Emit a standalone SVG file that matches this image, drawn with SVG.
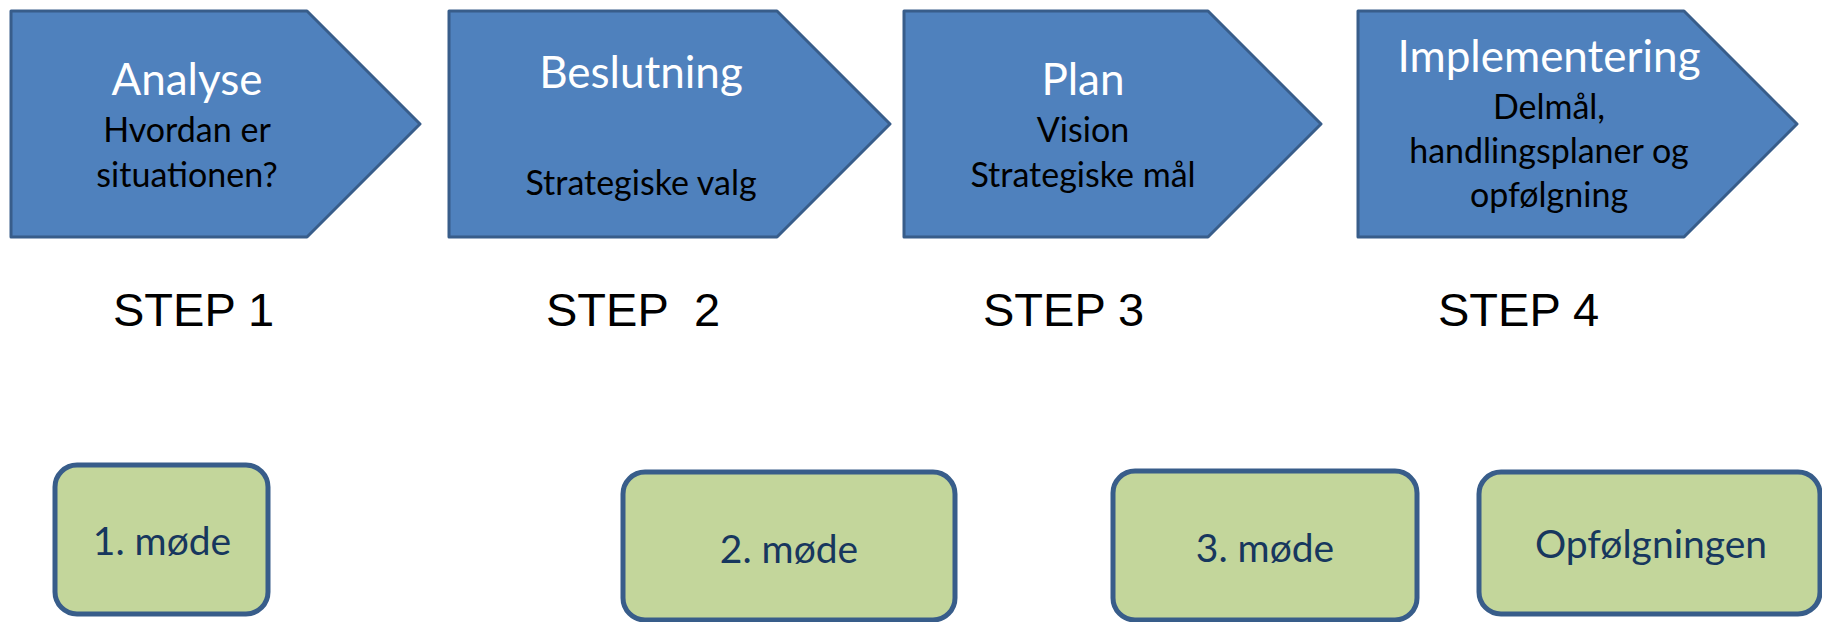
<svg xmlns="http://www.w3.org/2000/svg" width="1822" height="622" viewBox="0 0 1822 622">
<style>
.arrow{fill:#4f81bd;stroke:#385d8a;stroke-width:3;stroke-linejoin:round}
.box{fill:#c3d69b;stroke:#385d8a;stroke-width:5}
.title{font-family:Lato,"Open Sans",sans-serif;font-size:44px;fill:#ffffff;text-anchor:middle}
.body{font-family:Lato,"Open Sans",sans-serif;font-size:34px;fill:#000000;text-anchor:middle}
.step{font-family:"Liberation Sans",Arial,sans-serif;font-size:47px;fill:#000000;white-space:pre}
.meet{font-family:Lato,"Open Sans",sans-serif;font-size:39px;fill:#17375e;text-anchor:middle}
</style>
<rect width="1822" height="622" fill="#ffffff"/>
<g id="connectors"/>
<g id="step1">
<polygon class="arrow" points="11,11 307,11 420,124 307,237 11,237"/>
<text class="title" x="187" y="95">Analyse</text>
<text class="body" x="187" y="142">Hvordan er</text>
<text class="body" x="187" y="187">situationen?</text>
</g>
<g id="step2">
<polygon class="arrow" points="449,11 777,11 890,124 777,237 449,237"/>
<text class="title" x="641" y="88">Beslutning</text>
<text class="body" x="641" y="195">Strategiske valg</text>
</g>
<g id="step3">
<polygon class="arrow" points="904,11 1208,11 1321,124 1208,237 904,237"/>
<text class="title" x="1083" y="95">Plan</text>
<text class="body" x="1083" y="142">Vision</text>
<text class="body" x="1083" y="187">Strategiske mål</text>
</g>
<g id="step4">
<polygon class="arrow" points="1358,11 1684,11 1797,124 1684,237 1358,237"/>
<text class="title" x="1549" y="72">Implementering</text>
<text class="body" x="1549" y="119">Delmål,</text>
<text class="body" x="1549" y="163">handlingsplaner og</text>
<text class="body" x="1549" y="207">opfølgning</text>
</g>
<g id="labels">
<text class="step" x="113" y="326">STEP 1</text>
<text class="step" x="546" y="326" xml:space="preserve">STEP  2</text>
<text class="step" x="983" y="326">STEP 3</text>
<text class="step" x="1438" y="326">STEP 4</text>
</g>
<g id="meeting1">
<rect class="box" x="55" y="465" width="213" height="149" rx="22"/>
<text class="meet" x="162" y="555">1. møde</text>
</g>
<g id="meeting2">
<rect class="box" x="623" y="472" width="332" height="148" rx="22"/>
<text class="meet" x="789" y="563">2. møde</text>
</g>
<g id="meeting3">
<rect class="box" x="1113" y="471" width="304" height="149" rx="22"/>
<text class="meet" x="1265" y="562">3. møde</text>
</g>
<g id="meeting4">
<rect class="box" x="1479" y="472" width="341" height="142" rx="22"/>
<text class="meet" x="1651" y="558">Opfølgningen</text>
</g>
</svg>
